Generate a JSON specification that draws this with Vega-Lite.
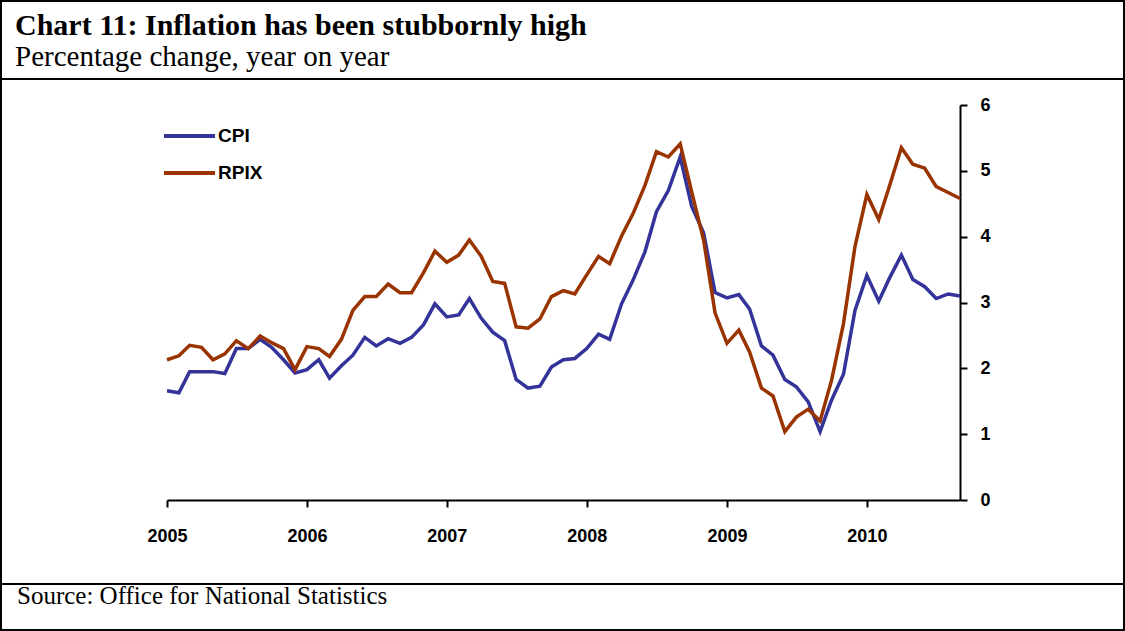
{
  "$schema": "https://vega.github.io/schema/vega-lite/v6.json",
  "padding": 0,
  "autosize": {"type": "pad"},
  "background": "white",
  "spacing": 0,
  "bounds": "flush",
  "config": {
    "view": {"stroke": "black", "strokeWidth": 2},
    "concat": {"spacing": 0}
  },
  "vconcat": [
    {
      "width": 1123,
      "height": 78,
      "view": {"stroke": "black", "strokeWidth": 2},
      "title": {
        "text": "Chart 11: Inflation has been stubbornly high",
        "subtitle": "Percentage change, year on year",
        "anchor": "start",
        "frame": "group",
        "orient": "top",
        "offset": -71,
        "dx": 14,
        "font": "Liberation Serif",
        "fontSize": 30,
        "fontWeight": "bold",
        "color": "black",
        "subtitleFont": "Liberation Serif",
        "subtitleFontSize": 29,
        "subtitleColor": "black",
        "subtitlePadding": 2
      },
      "data": {"values": [{"t": ""}]},
      "mark": "text",
      "encoding": {"text": {"field": "t"}}
    },
    {
      "width": 1123,
      "height": 505,
      "data": {
        "values": [
          {"date": "2005-01-01", "CPI": 1.66, "RPIX": 2.13},
          {"date": "2005-02-01", "CPI": 1.63, "RPIX": 2.19},
          {"date": "2005-03-01", "CPI": 1.95, "RPIX": 2.35},
          {"date": "2005-04-01", "CPI": 1.95, "RPIX": 2.32},
          {"date": "2005-05-01", "CPI": 1.95, "RPIX": 2.13},
          {"date": "2005-06-01", "CPI": 1.92, "RPIX": 2.22},
          {"date": "2005-07-01", "CPI": 2.30, "RPIX": 2.42},
          {"date": "2005-08-01", "CPI": 2.30, "RPIX": 2.30},
          {"date": "2005-09-01", "CPI": 2.44, "RPIX": 2.49},
          {"date": "2005-10-01", "CPI": 2.32, "RPIX": 2.39},
          {"date": "2005-11-01", "CPI": 2.13, "RPIX": 2.30},
          {"date": "2005-12-01", "CPI": 1.93, "RPIX": 1.98},
          {"date": "2006-01-01", "CPI": 1.98, "RPIX": 2.33},
          {"date": "2006-02-01", "CPI": 2.13, "RPIX": 2.30},
          {"date": "2006-03-01", "CPI": 1.85, "RPIX": 2.18},
          {"date": "2006-04-01", "CPI": 2.04, "RPIX": 2.44},
          {"date": "2006-05-01", "CPI": 2.20, "RPIX": 2.88},
          {"date": "2006-06-01", "CPI": 2.47, "RPIX": 3.09},
          {"date": "2006-07-01", "CPI": 2.34, "RPIX": 3.09},
          {"date": "2006-08-01", "CPI": 2.45, "RPIX": 3.28},
          {"date": "2006-09-01", "CPI": 2.38, "RPIX": 3.15},
          {"date": "2006-10-01", "CPI": 2.47, "RPIX": 3.15},
          {"date": "2006-11-01", "CPI": 2.66, "RPIX": 3.45},
          {"date": "2006-12-01", "CPI": 2.98, "RPIX": 3.78},
          {"date": "2007-01-01", "CPI": 2.78, "RPIX": 3.61},
          {"date": "2007-02-01", "CPI": 2.81, "RPIX": 3.72},
          {"date": "2007-03-01", "CPI": 3.06, "RPIX": 3.95},
          {"date": "2007-04-01", "CPI": 2.76, "RPIX": 3.70},
          {"date": "2007-05-01", "CPI": 2.55, "RPIX": 3.32},
          {"date": "2007-06-01", "CPI": 2.42, "RPIX": 3.29},
          {"date": "2007-07-01", "CPI": 1.83, "RPIX": 2.63},
          {"date": "2007-08-01", "CPI": 1.70, "RPIX": 2.61},
          {"date": "2007-09-01", "CPI": 1.73, "RPIX": 2.75},
          {"date": "2007-10-01", "CPI": 2.02, "RPIX": 3.09},
          {"date": "2007-11-01", "CPI": 2.13, "RPIX": 3.18},
          {"date": "2007-12-01", "CPI": 2.15, "RPIX": 3.13},
          {"date": "2008-01-01", "CPI": 2.30, "RPIX": 3.42},
          {"date": "2008-02-01", "CPI": 2.52, "RPIX": 3.70},
          {"date": "2008-03-01", "CPI": 2.44, "RPIX": 3.59},
          {"date": "2008-04-01", "CPI": 2.98, "RPIX": 4.01},
          {"date": "2008-05-01", "CPI": 3.34, "RPIX": 4.35},
          {"date": "2008-06-01", "CPI": 3.77, "RPIX": 4.78},
          {"date": "2008-07-01", "CPI": 4.38, "RPIX": 5.29},
          {"date": "2008-08-01", "CPI": 4.70, "RPIX": 5.21},
          {"date": "2008-09-01", "CPI": 5.21, "RPIX": 5.41},
          {"date": "2008-10-01", "CPI": 4.46, "RPIX": 4.68},
          {"date": "2008-11-01", "CPI": 4.06, "RPIX": 3.95},
          {"date": "2008-12-01", "CPI": 3.15, "RPIX": 2.84},
          {"date": "2009-01-01", "CPI": 3.07, "RPIX": 2.38},
          {"date": "2009-02-01", "CPI": 3.12, "RPIX": 2.58},
          {"date": "2009-03-01", "CPI": 2.90, "RPIX": 2.25},
          {"date": "2009-04-01", "CPI": 2.34, "RPIX": 1.70},
          {"date": "2009-05-01", "CPI": 2.20, "RPIX": 1.58},
          {"date": "2009-06-01", "CPI": 1.83, "RPIX": 1.04},
          {"date": "2009-07-01", "CPI": 1.72, "RPIX": 1.26},
          {"date": "2009-08-01", "CPI": 1.49, "RPIX": 1.38},
          {"date": "2009-09-01", "CPI": 1.04, "RPIX": 1.20},
          {"date": "2009-10-01", "CPI": 1.52, "RPIX": 1.82},
          {"date": "2009-11-01", "CPI": 1.91, "RPIX": 2.68},
          {"date": "2009-12-01", "CPI": 2.88, "RPIX": 3.85},
          {"date": "2010-01-01", "CPI": 3.41, "RPIX": 4.64},
          {"date": "2010-02-01", "CPI": 3.02, "RPIX": 4.26},
          {"date": "2010-03-01", "CPI": 3.37, "RPIX": 4.77},
          {"date": "2010-04-01", "CPI": 3.72, "RPIX": 5.35},
          {"date": "2010-05-01", "CPI": 3.35, "RPIX": 5.10},
          {"date": "2010-06-01", "CPI": 3.24, "RPIX": 5.04},
          {"date": "2010-07-01", "CPI": 3.06, "RPIX": 4.76},
          {"date": "2010-08-01", "CPI": 3.13, "RPIX": 4.67},
          {"date": "2010-09-01", "CPI": 3.10, "RPIX": 4.58}
        ]
      },
      "transform": [{"fold": ["CPI", "RPIX"], "as": ["series", "value"]}],
      "mark": {"type": "line", "strokeWidth": 3.5, "strokeJoin": "miter"},
      "encoding": {
        "x": {
          "field": "date",
          "type": "temporal",
          "scale": {
            "type": "utc",
            "domain": [
              {"year": 2005, "month": 1, "date": 1, "utc": true},
              {"year": 2010, "month": 9, "date": 1, "utc": true}
            ],
            "range": [166, 959],
            "nice": false
          },
          "axis": {
            "orient": "bottom",
            "offset": -84,
            "values": [
              {"year": 2005, "month": 1, "date": 1, "utc": true},
              {"year": 2006, "month": 1, "date": 1, "utc": true},
              {"year": 2007, "month": 1, "date": 1, "utc": true},
              {"year": 2008, "month": 1, "date": 1, "utc": true},
              {"year": 2009, "month": 1, "date": 1, "utc": true},
              {"year": 2010, "month": 1, "date": 1, "utc": true}
            ],
            "labelExpr": "utcFormat(datum.value, '%Y')",
            "title": null,
            "grid": false,
            "domainColor": "black",
            "domainWidth": 2,
            "tickColor": "black",
            "tickWidth": 2,
            "tickSize": 7,
            "labelFont": "Liberation Sans",
            "labelFontWeight": "bold",
            "labelFontSize": 18,
            "labelColor": "black",
            "labelPadding": 20,
            "labelFlush": false,
            "labelOverlap": false
          }
        },
        "y": {
          "field": "value",
          "type": "quantitative",
          "scale": {"domain": [0, 6], "range": [421, 26], "nice": false, "zero": true},
          "axis": {
            "orient": "right",
            "offset": -164,
            "values": [0, 1, 2, 3, 4, 5, 6],
            "title": null,
            "grid": false,
            "domainColor": "black",
            "domainWidth": 2,
            "tickColor": "black",
            "tickWidth": 2,
            "tickSize": 7,
            "labelFont": "Liberation Sans",
            "labelFontWeight": "bold",
            "labelFontSize": 18,
            "labelColor": "black",
            "labelPadding": 13,
            "labelFlush": false,
            "labelOverlap": false
          }
        },
        "color": {
          "field": "series",
          "type": "nominal",
          "scale": {"domain": ["CPI", "RPIX"], "range": ["#333399", "#993300"]},
          "legend": {
            "orient": "none",
            "legendX": 161,
            "legendY": 126,
            "title": null,
            "padding": 0,
            "symbolType": "stroke",
            "symbolSize": 2601,
            "symbolStrokeWidth": 4,
            "clipHeight": 18,
            "rowPadding": 18,
            "labelFont": "Liberation Sans",
            "labelFontWeight": "bold",
            "labelFontSize": 19,
            "labelColor": "black",
            "labelOffset": 1
          }
        }
      }
    },
    {
      "width": 1123,
      "height": 46,
      "view": {"stroke": "black", "strokeWidth": 2},
      "title": {
        "text": "Source: Office for National Statistics",
        "anchor": "start",
        "frame": "group",
        "orient": "top",
        "offset": -25,
        "dx": 16,
        "font": "Liberation Serif",
        "fontSize": 25,
        "fontWeight": "normal",
        "color": "black"
      },
      "data": {"values": [{"t": ""}]},
      "mark": "text",
      "encoding": {"text": {"field": "t"}}
    }
  ]
}
